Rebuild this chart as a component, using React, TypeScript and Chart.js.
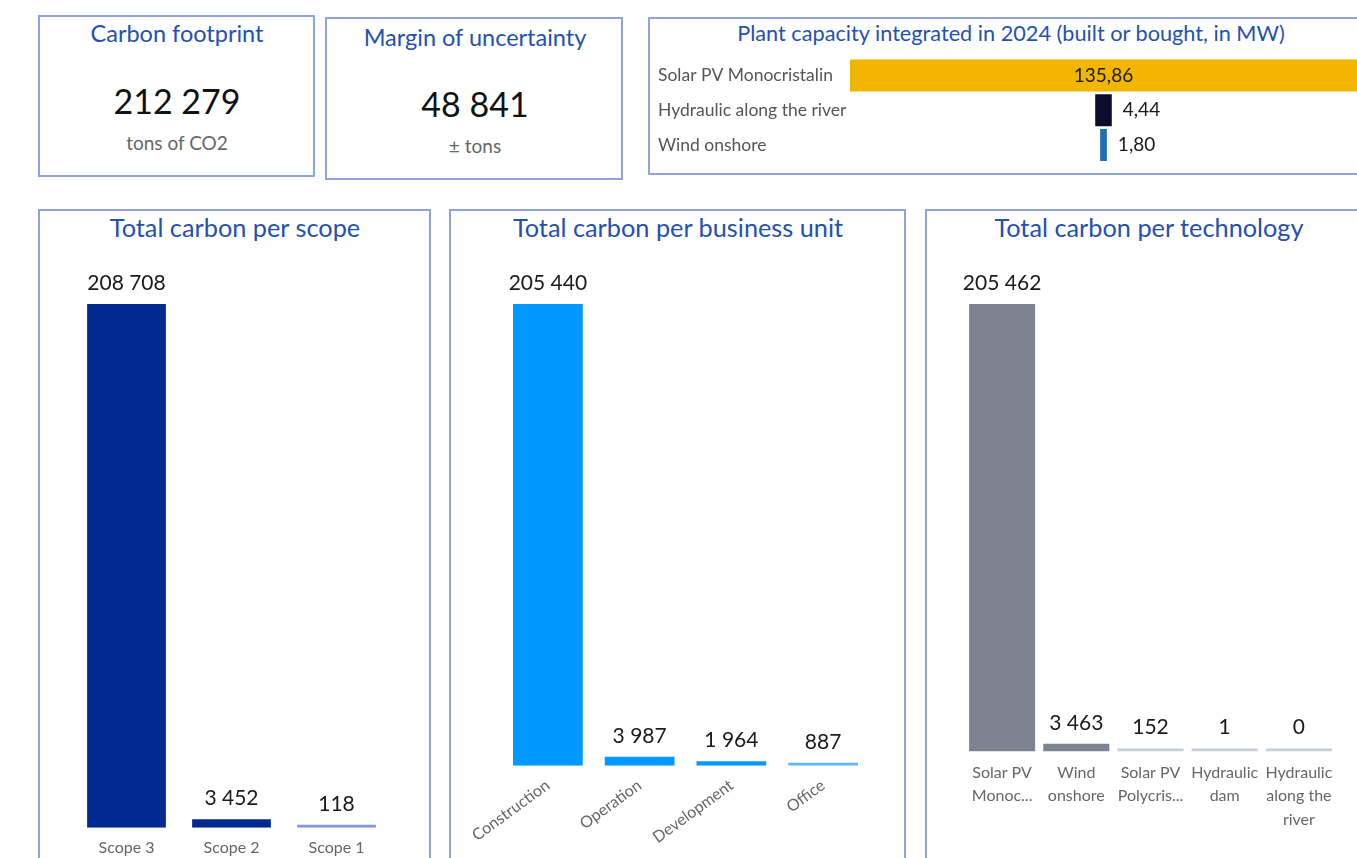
import React, { useEffect, useRef } from "react";
import { Chart, registerables } from "chart.js";
Chart.register(...registerables);

const FONT = "Lato, 'Open Sans', sans-serif";
const TITLE_BLUE = "#2451AE";
const BORDER = "#8FA4DA";

// ---- data ----
const kpiFootprint = 212279;
const kpiUncertainty = 48841;

const capacityCategories = ["Solar PV Monocristalin", "Hydraulic along the river", "Wind onshore"];
const capacityValues = [135.86, 4.44, 1.8];
const capacityColors = ["#F2B600", "#0B0B2B", "#1F6FB2"];

const scopeCategories = ["Scope 3", "Scope 2", "Scope 1"];
const scopeValues = [208708, 3452, 118];
const scopeColors = ["#002A8F", "#002A8F", "#8099D8"];

const unitCategories = ["Construction", "Operation", "Development", "Office"];
const unitValues = [205440, 3987, 1964, 887];
const unitColors = ["#0099FF", "#0099FF", "#0099FF", "#5CB9FF"];

const techCategories = [
  ["Solar PV", "Monoc..."],
  ["Wind", "onshore"],
  ["Solar PV", "Polycris..."],
  ["Hydraulic", "dam"],
  ["Hydraulic", "along the", "river"],
];
const techValues = [205462, 3463, 152, 1, 0];
const techColors = ["#7E8391", "#7E8391", "#C8CCD8", "#C8CCD8", "#C8CCD8"];

// ---- helpers ----
const fmtInt = (n: number) => Math.round(n).toString().replace(/\B(?=(\d{3})+(?!\d))/g, " ");
const fmtDec = (n: number) => n.toFixed(2).replace(".", ",");

const columnLabelPlugin = {
  id: "columnLabels",
  afterDatasetsDraw(chart: any) {
    const ctx = chart.ctx;
    const meta = chart.getDatasetMeta(0);
    const values = chart.data.datasets[0].data as number[];
    ctx.save();
    ctx.font = `21px ${FONT}`;
    ctx.fillStyle = "#1A1A1A";
    ctx.textAlign = "center";
    ctx.textBaseline = "middle";
    meta.data.forEach((el: any, i: number) => {
      const top = Math.min(el.y, el.base);
      ctx.fillText(fmtInt(values[i]), el.x, top - 21);
    });
    ctx.restore();
  },
};

const funnelLabelPlugin = {
  id: "funnelLabels",
  afterDatasetsDraw(chart: any) {
    const ctx = chart.ctx;
    const meta = chart.getDatasetMeta(0);
    ctx.save();
    ctx.font = `19px ${FONT}`;
    ctx.fillStyle = "#1A1A1A";
    ctx.textBaseline = "middle";
    meta.data.forEach((el: any, i: number) => {
      const txt = fmtDec(capacityValues[i]);
      const w = Math.abs(el.x - el.base);
      const tw = ctx.measureText(txt).width;
      if (w > tw + 20) {
        ctx.textAlign = "center";
        ctx.fillText(txt, (el.x + el.base) / 2, el.y);
      } else {
        ctx.textAlign = "left";
        ctx.fillText(txt, Math.max(el.x, el.base) + 11, el.y);
      }
    });
    ctx.restore();
  },
};

function columnConfig(labels: any[], values: number[], colors: string[], padding: any, barPct: number, rotation: number, lineHeight: number) {
  return {
    type: "bar",
    data: {
      labels,
      datasets: [
        {
          data: values,
          backgroundColor: colors,
          borderWidth: 0,
          barPercentage: barPct,
          categoryPercentage: 1,
          minBarLength: 3,
        },
      ],
    },
    options: {
      responsive: false,
      animation: false,
      layout: { padding },
      plugins: { legend: { display: false }, tooltip: { enabled: false } },
      scales: {
        y: { display: false, min: 0, max: Math.max(...values) },
        x: {
          grid: { display: false, drawTicks: false },
          border: { display: false },
          ticks: {
            color: "#666",
            font: { family: FONT, size: 16, lineHeight },
            padding: 10,
            minRotation: rotation,
            maxRotation: rotation,
            autoSkip: false,
          },
        },
      },
    },
    plugins: [columnLabelPlugin],
  };
}

function funnelConfig() {
  const maxV = Math.max(...capacityValues);
  return {
    type: "bar",
    data: {
      labels: capacityCategories,
      datasets: [
        {
          data: capacityValues.map((v) => [-v / 2, v / 2]),
          backgroundColor: capacityColors,
          borderWidth: 0,
          barPercentage: 0.92,
          categoryPercentage: 1,
        },
      ],
    },
    options: {
      indexAxis: "y",
      responsive: false,
      animation: false,
      layout: { padding: { left: 8, right: 0, top: 13, bottom: 7 } },
      plugins: { legend: { display: false }, tooltip: { enabled: false } },
      scales: {
        x: { display: false, min: -maxV / 2, max: maxV / 2 },
        y: {
          grid: { display: false, drawTicks: false },
          border: { display: false },
          ticks: { color: "#555", font: { family: FONT, size: 17.5 }, crossAlign: "far", padding: 0 },
          afterFit: (s: any) => {
            s.width = 192;
          },
        },
      },
    },
    plugins: [funnelLabelPlugin],
  };
}

function ChartBox({ left, top, width, height, config }: any) {
  const ref = useRef<HTMLCanvasElement>(null);
  useEffect(() => {
    if (!ref.current) return;
    const chart = new Chart(ref.current, config());
    return () => chart.destroy();
  }, []);
  return (
    <canvas
      ref={ref}
      width={width}
      height={height}
      style={{ position: "absolute", left, top, width, height }}
    />
  );
}

function Panel({ left, top, width, height }: any) {
  return (
    <div
      style={{
        position: "absolute",
        left,
        top,
        width,
        height,
        boxSizing: "border-box",
        border: `2px solid ${BORDER}`,
      }}
    />
  );
}

function Text({ cx, cy, size, color, children, w = 600 }: any) {
  return (
    <div
      style={{
        position: "absolute",
        left: cx - w / 2,
        top: cy - size * 0.7,
        width: w,
        height: size * 1.4,
        lineHeight: `${size * 1.4}px`,
        textAlign: "center",
        fontSize: size,
        color,
        fontFamily: FONT,
        whiteSpace: "nowrap",
      }}
    >
      {children}
    </div>
  );
}

export default function App() {
  return (
    <div
      style={{
        position: "absolute",
        left: 0,
        top: 0,
        width: 1357,
        height: 858,
        overflow: "hidden",
        background: "#fff",
      }}
    >
      <Panel left={38} top={15} width={277} height={162} />
      <Panel left={325} top={17} width={298} height={163} />
      <Panel left={648} top={17} width={760} height={158} />
      <Panel left={38} top={209} width={393} height={700} />
      <Panel left={449} top={209} width={457} height={700} />
      <Panel left={925} top={209} width={500} height={700} />

      <Text cx={177} cy={33} size={23.5} color={TITLE_BLUE}>Carbon footprint</Text>
      <Text cx={177} cy={101} size={34} color="#111">{fmtInt(kpiFootprint)}</Text>
      <Text cx={177} cy={143} size={19} color="#666">tons of CO2</Text>

      <Text cx={475} cy={37} size={23.5} color={TITLE_BLUE}>Margin of uncertainty</Text>
      <Text cx={475} cy={104} size={34} color="#111">{fmtInt(kpiUncertainty)}</Text>
      <Text cx={475} cy={146} size={19} color="#666">± tons</Text>

      <Text cx={1011} cy={33} size={21.7} color={TITLE_BLUE} w={760}>Plant capacity integrated in 2024 (built or bought, in MW)</Text>

      <Text cx={235} cy={228} size={25.3} color={TITLE_BLUE}>Total carbon per scope</Text>
      <Text cx={678} cy={228} size={25.3} color={TITLE_BLUE}>Total carbon per business unit</Text>
      <Text cx={1149} cy={228} size={25.3} color={TITLE_BLUE}>Total carbon per technology</Text>

      <ChartBox left={650} top={45} width={707} height={128} config={funnelConfig} />
      <ChartBox
        left={40}
        top={240}
        width={389}
        height={632}
        config={() => columnConfig(scopeCategories, scopeValues, scopeColors, { left: 34, right: 40, top: 64, bottom: 5 }, 0.75, 0, 1.2)}
      />
      <ChartBox
        left={451}
        top={240}
        width={453}
        height={618}
        config={() => columnConfig(unitCategories, unitValues, unitColors, { left: 51, right: 35, top: 64, bottom: 1 }, 0.76, 36, 1.2)}
      />
      <ChartBox
        left={927}
        top={240}
        width={430}
        height={618}
        config={() => columnConfig(techCategories, techValues, techColors, { left: 38, right: 21, top: 64, bottom: 17 }, 0.89, 0, 1.45)}
      />
    </div>
  );
}
